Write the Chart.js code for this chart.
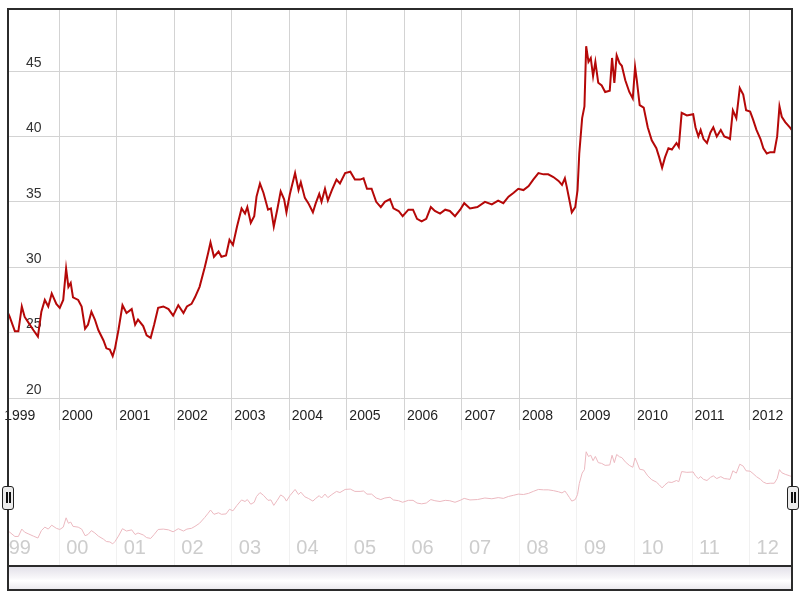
<!DOCTYPE html>
<html>
<head>
<meta charset="utf-8">
<title>Rate 1999-2012</title>
<script src="https://cdn.jsdelivr.net/npm/chart.js@4.4.1/dist/chart.umd.min.js"></script>
<style>
  body { margin: 0; background: #fff; }
  #wrap { position: relative; width: 800px; height: 600px; overflow: hidden; }
  #wrap canvas { position: absolute; left: 0; }
  #main { top: 0; }
  #nav { top: 430px; }
  .frame { position: absolute; left: 7px; top: 8px; width: 786px; height: 583px;
           border: 2px solid #2b2b2b; box-sizing: border-box; pointer-events: none; }
  .scroll { position: absolute; left: 8px; top: 565px; width: 784px; height: 25px;
            border-top: 2px solid #2b2b2b; box-sizing: border-box;
            background: linear-gradient(#e3e1e9, #f7f6f9 45%, #ffffff 60%, #e9e8ec); }
  .handle { position: absolute; top: 486px; width: 12px; height: 24px; box-sizing: border-box;
            border: 1.5px solid #222; border-radius: 3px; background: #ececec; }
  .handle i { position: absolute; top: 5px; width: 2px; height: 11px; background: #111; }
</style>
</head>
<body>
<div id="wrap">
  <canvas id="main" width="800" height="440"></canvas>
  <canvas id="nav" width="800" height="136"></canvas>
  <div class="scroll"></div>
  <div class="frame"></div>
  <div class="handle" style="left:2px"><i style="left:2.5px"></i><i style="left:6px"></i></div>
  <div class="handle" style="left:787px"><i style="left:2.5px"></i><i style="left:6px"></i></div>
</div>
<script>
// values (decimal year, rate)
var dates = [
  1999.10, 1999.14, 1999.23, 1999.29, 1999.35, 1999.40, 1999.46, 1999.55, 1999.63, 1999.69, 1999.75, 1999.81, 1999.87, 1999.95,
  2000.01, 2000.07, 2000.12, 2000.16, 2000.20, 2000.24, 2000.33, 2000.39, 2000.45, 2000.50, 2000.56, 2000.62, 2000.68, 2000.77, 2000.82, 2000.88, 2000.93, 2000.97,
  2001.03, 2001.10, 2001.17, 2001.26, 2001.32, 2001.37, 2001.46, 2001.52, 2001.59, 2001.65, 2001.72, 2001.81, 2001.90, 2001.98,
  2002.07, 2002.16, 2002.22, 2002.30, 2002.36, 2002.44, 2002.53, 2002.59, 2002.63, 2002.69, 2002.77, 2002.82, 2002.90, 2002.96,
  2003.02, 2003.09, 2003.17, 2003.23, 2003.27, 2003.33, 2003.39, 2003.43, 2003.49, 2003.55, 2003.63, 2003.68, 2003.73, 2003.79, 2003.85, 2003.91, 2003.95,
  2004.01, 2004.10, 2004.16, 2004.20, 2004.27, 2004.33, 2004.41, 2004.46, 2004.52, 2004.56, 2004.62, 2004.67, 2004.74, 2004.82, 2004.88, 2004.97,
  2005.06, 2005.14, 2005.23, 2005.29, 2005.35, 2005.43, 2005.51, 2005.59, 2005.66, 2005.75, 2005.81, 2005.90, 2005.97,
  2006.07, 2006.15, 2006.22, 2006.30, 2006.38, 2006.46, 2006.53, 2006.62, 2006.71, 2006.79, 2006.88, 2006.97,
  2007.04, 2007.14, 2007.27, 2007.40, 2007.52, 2007.63, 2007.72, 2007.81, 2007.90, 2007.98,
  2008.07, 2008.16, 2008.24, 2008.33, 2008.42, 2008.50, 2008.59, 2008.68, 2008.74, 2008.79, 2008.82, 2008.87, 2008.91, 2008.97,
  2009.01, 2009.04, 2009.09, 2009.13, 2009.16, 2009.20, 2009.24, 2009.28, 2009.32, 2009.37, 2009.43, 2009.49, 2009.57, 2009.61, 2009.65, 2009.69, 2009.74, 2009.78, 2009.84, 2009.91, 2009.97,
  2010.01, 2010.04, 2010.09, 2010.16, 2010.23, 2010.30, 2010.38, 2010.43, 2010.48, 2010.53, 2010.59, 2010.65, 2010.73, 2010.77, 2010.82, 2010.91,
  2011.02, 2011.06, 2011.11, 2011.15, 2011.20, 2011.26, 2011.32, 2011.37, 2011.43, 2011.50, 2011.56, 2011.62, 2011.66, 2011.71, 2011.77, 2011.83, 2011.89, 2011.94,
  2012.01, 2012.06, 2012.12, 2012.19, 2012.24, 2012.30, 2012.36, 2012.43, 2012.48, 2012.52, 2012.56, 2012.62, 2012.70, 2012.75
];
var rates = [
  26.6, 26.2, 25.1, 25.1, 27.0, 26.2, 25.8, 25.2, 24.7, 26.6, 27.5, 27.0, 28.0, 27.2,
  26.9, 27.5, 29.9, 28.5, 28.8, 27.7, 27.5, 27.0, 25.3, 25.6, 26.6, 26.0, 25.2, 24.4, 23.8, 23.7, 23.2, 23.8,
  25.2, 27.1, 26.5, 26.8, 25.6, 26.0, 25.5, 24.8, 24.6, 25.6, 26.9, 27.0, 26.8, 26.3,
  27.1, 26.5, 27.0, 27.2, 27.7, 28.5, 30.0, 31.1, 31.9, 30.8, 31.2, 30.8, 30.9, 32.1,
  31.7, 33.1, 34.5, 34.1, 34.6, 33.4, 33.9, 35.4, 36.4, 35.7, 34.4, 34.5, 33.1, 34.4, 35.8, 35.2, 34.2,
  35.6, 37.2, 35.9, 36.5, 35.3, 34.9, 34.2, 34.9, 35.6, 35.0, 36.0, 35.1, 35.9, 36.7, 36.4, 37.2,
  37.3, 36.7, 36.7, 36.8, 36.0, 36.0, 35.0, 34.6, 35.0, 35.2, 34.5, 34.3, 33.9,
  34.4, 34.4, 33.7, 33.5, 33.7, 34.6, 34.3, 34.1, 34.4, 34.3, 33.9, 34.4,
  34.9, 34.5, 34.6, 35.0, 34.8, 35.1, 34.9, 35.4, 35.7, 36.0,
  35.9, 36.2, 36.7, 37.2, 37.1, 37.1, 36.9, 36.6, 36.3, 36.8, 36.2, 35.1, 34.2, 34.6,
  35.9, 38.7, 41.4, 42.3, 46.9, 45.7, 46.0, 44.6, 45.7, 44.1, 43.9, 43.4, 43.5, 46.0, 44.1, 46.2, 45.6, 45.4, 44.3, 43.4, 42.9,
  45.3, 44.3, 42.4, 42.2, 40.7, 39.7, 39.1, 38.4, 37.6, 38.4, 39.1, 39.0, 39.5, 39.2, 41.8, 41.6,
  41.7, 40.7, 40.0, 40.5, 39.8, 39.5, 40.3, 40.7, 40.0, 40.5, 40.0, 39.9, 39.8, 42.0, 41.4, 43.7, 43.2, 42.0,
  41.9, 41.3, 40.5, 39.8, 39.1, 38.7, 38.8, 38.8, 40.0, 42.3, 41.5, 41.1, 40.7, 40.4
];
var yearTicks = [1999, 2000, 2001, 2002, 2003, 2004, 2005, 2006, 2007, 2008, 2009, 2010, 2011, 2012];
var rateTicks = [20, 25, 30, 35, 40, 45];

var xMin = 1999.11, xMax = 2012.75;
var points = dates.map(function (d, i) { return { x: d, y: rates[i] }; });
var fontFamily = 'Arial, "Liberation Sans", sans-serif';

function gridColor(col) {
    return function (ctx) {
        return ctx.tick && ctx.tick.value < xMin ? 'rgba(0,0,0,0)' : col;
    };
}

function yearScaleTicks(s) {
    s.ticks = yearTicks.map(function (v) { return { value: v }; });
}

Chart.defaults.animation = false;
Chart.defaults.responsive = false;
Chart.defaults.plugins.legend.display = false;
Chart.defaults.plugins.tooltip.enabled = false;

const mainChart = new Chart(document.getElementById('main').getContext('2d'), {
    type: 'line',
    data: {
        datasets: [{
            data: points, borderColor: '#b50808', borderWidth: 2, pointRadius: 0, tension: 0, fill: false
        }]
    },
    options: {
        layout: { padding: { left: 8, top: 8, right: 7.3, bottom: 0 } },
        scales: {
            x: {
                type: 'linear', min: xMin, max: xMax,
                afterFit: function (s) { s.height = 40; s.paddingLeft = 0; s.paddingRight = 0; },
                afterBuildTicks: yearScaleTicks,
                grid: { color: gridColor('#d3d3d3'), tickLength: 30 },
                border: { display: false },
                ticks: {
                    align: 'start', padding: -22, labelOffset: 2.5, autoSkip: false, maxRotation: 0,
                    color: '#222', font: { family: fontFamily, size: 14 },
                    callback: function (v) { return String(v); }
                }
            },
            y: {
                min: 19.85, max: 49.82,
                afterFit: function (s) { s.width = 0; s.paddingTop = 0; s.paddingBottom = 0; },
                afterBuildTicks: function (s) { s.ticks = rateTicks.map(function (v) { return { value: v }; }); },
                grid: { color: '#d3d3d3', drawTicks: false },
                border: { display: false },
                ticks: { mirror: true, padding: 18, labelOffset: -8, color: '#333', font: { family: fontFamily, size: 14 } }
            }
        }
    }
});

const navChart = new Chart(document.getElementById('nav').getContext('2d'), {
    type: 'line',
    data: {
        datasets: [{
            data: points, borderColor: '#ecb9c0', borderWidth: 1, pointRadius: 0, tension: 0, fill: false
        }]
    },
    options: {
        layout: { padding: { left: 8, top: 0, right: 7.3, bottom: 0 } },
        scales: {
            x: {
                type: 'linear', min: xMin, max: xMax,
                afterFit: function (s) { s.height = 0; s.paddingLeft = 0; s.paddingRight = 0; },
                afterBuildTicks: yearScaleTicks,
                grid: { color: gridColor('#f1f1f1'), drawTicks: false },
                border: { display: false },
                ticks: {
                    // mirrored so the labels sit inside the plot area
                    mirror: true, align: 'start', padding: 6, labelOffset: 7, autoSkip: false, maxRotation: 0,
                    color: '#cdcdcd', font: { family: fontFamily, size: 20 },
                    callback: function (v) { return String(v).slice(2); }
                }
            },
            y: { display: false, min: 17.5, max: 52.5 }
        }
    }
});
</script>
</body>
</html>
